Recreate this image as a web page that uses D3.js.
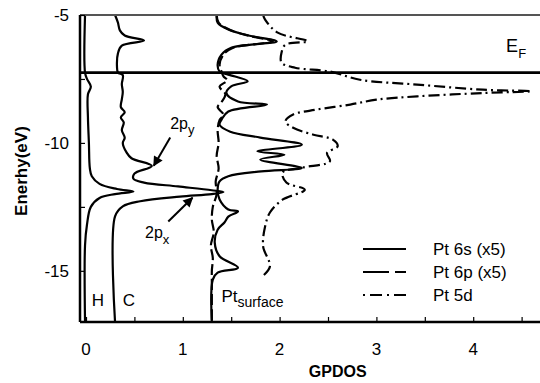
<!DOCTYPE html>
<html>
<head>
<meta charset="utf-8">
<script src="https://cdn.jsdelivr.net/npm/d3@7"></script>
<style>
  body { margin: 0; background: #fff; }
  svg { font-family: "Liberation Sans", Arial, sans-serif; }
</style>
</head>
<body>
<svg id="chart" width="540" height="383"></svg>
<script>
// energy (eV) vs GPDOS, one [E, dos] pair per point
const hCurve = [[-5,-0.01],[-7.25,-0.01],[-7.5,0.01],[-7.8,0.05],[-8.1,0.02],[-9,0.02],[-10,0.03],[-11,0.04],[-11.3,0.06],[-11.6,0.14],[-11.8,0.32],[-11.9,0.49],[-12.0,0.3],[-12.15,0.14],[-12.5,0.05],[-13.2,0.01],[-14,-0.01],[-17,-0.01]];
const cCurve = [[-5,0.3],[-5.3,0.33],[-5.6,0.35],[-5.8,0.4],[-6.0,0.6],[-6.2,0.37],[-6.5,0.33],[-7.0,0.32],[-7.25,0.33],[-7.35,0.38],[-7.7,0.37],[-8.0,0.38],[-8.3,0.37],[-8.6,0.36],[-8.8,0.40],[-9.0,0.36],[-9.2,0.39],[-9.5,0.37],[-9.8,0.40],[-10.0,0.38],[-10.38,0.42],[-10.6,0.47],[-10.9,0.68],[-11.2,0.5],[-11.4,0.49],[-11.55,0.6],[-11.7,0.95],[-11.85,1.3],[-11.92,1.42],[-12.0,1.3],[-12.1,0.97],[-12.28,0.56],[-12.48,0.38],[-12.87,0.3],[-17,0.3]];
const pt6s = [[-5.0,1.35],[-5.3,1.36],[-5.57,1.47],[-5.81,1.69],[-6.03,1.97],[-6.28,1.5],[-6.55,1.4],[-6.94,1.36],[-7.21,1.38],[-7.33,1.47],[-7.59,1.67],[-7.79,1.5],[-8.05,1.45],[-8.38,1.57],[-8.5,1.87],[-8.77,1.47],[-9.09,1.4],[-9.29,1.38],[-9.56,1.49],[-9.79,1.8],[-10.07,2.23],[-10.33,1.77],[-10.46,2.05],[-10.65,1.8],[-10.98,2.23],[-11.11,1.81],[-11.3,1.47],[-11.5,1.38],[-11.82,1.36],[-12.21,1.38],[-12.6,1.47],[-12.68,1.57],[-12.88,1.47],[-13.11,1.43],[-13.39,1.36],[-13.9,1.33],[-14.43,1.38],[-14.88,1.57],[-15.07,1.36],[-15.34,1.31],[-17,1.3]];
const pt6p = [[-5.0,1.35],[-5.3,1.37],[-5.57,1.48],[-5.81,1.68],[-6.03,1.93],[-6.28,1.52],[-6.55,1.42],[-6.94,1.38],[-7.21,1.4],[-7.4,1.42],[-7.55,1.46],[-7.8,1.38],[-8.1,1.44],[-8.4,1.4],[-8.6,1.36],[-8.9,1.42],[-9.1,1.38],[-9.5,1.36],[-10.0,1.37],[-10.5,1.35],[-11.0,1.37],[-11.5,1.34],[-12.0,1.35],[-12.5,1.31],[-13.0,1.3],[-13.5,1.32],[-14.0,1.29],[-14.5,1.31],[-15.0,1.3],[-15.4,1.3],[-17,1.3]];
const pt5d = [[-5.0,1.83],[-5.18,1.85],[-5.69,1.98],[-6.03,2.29],[-6.16,2.06],[-6.47,2.02],[-6.86,2.02],[-7.06,2.16],[-7.21,2.52],[-7.53,2.83],[-7.72,3.42],[-7.92,4.1],[-7.98,4.6],[-8.05,4.1],[-8.18,3.42],[-8.31,3.0],[-8.5,2.73],[-8.7,2.38],[-8.89,2.14],[-9.16,2.06],[-9.41,2.14],[-9.68,2.35],[-9.87,2.55],[-10.13,2.6],[-10.39,2.49],[-10.72,2.52],[-10.96,2.24],[-11.16,2.03],[-11.55,2.07],[-11.83,2.26],[-12.22,2.03],[-12.72,1.9],[-13.27,1.85],[-14.05,1.83],[-14.83,1.9],[-15.26,1.81]];

const fermi = -7.25;
const xTicks = [0, 1, 2, 3, 4];
const yTicks = [-5, -10, -15];
const legendNames = ['Pt 6s (x5)', 'Pt 6p (x5)', 'Pt 5d'];

const svg = d3.select('#chart');
const mLeft = 80, mRight = 540, mTop = 15, mBottom = 322;

const x = d3.scaleLinear().domain([-0.062, 4.69]).range([mLeft, mRight]);
const y = d3.scaleLinear().domain([-5, -17]).range([mTop, mBottom]);

const line = d3.line()
  .x(d => x(d[1]))
  .y(d => y(d[0]))
  .curve(d3.curveCatmullRom.alpha(0.5));

const styles = [
  { data: pt6s, dash: null, legendDash: null },
  { data: pt6p, dash: '11,4', legendDash: '26,6,11' },
  { data: pt5d, dash: '11,4,2,4', legendDash: '2,5,12,5' }
];

// H and C curves
[hCurve, cCurve].forEach(c => {
  svg.append('path').attr('d', line(c))
    .attr('fill', 'none').attr('stroke', '#000').attr('stroke-width', 2.2);
});
styles.forEach(s => {
  svg.append('path').attr('d', line(s.data))
    .attr('fill', 'none').attr('stroke', '#000').attr('stroke-width', 2.2)
    .attr('stroke-dasharray', s.dash);
});

// frame
svg.append('line').attr('x1', mLeft).attr('x2', mRight).attr('y1', mTop).attr('y2', mTop)
  .attr('stroke', '#555').attr('stroke-width', 2);

const xAxis = svg.append('g').attr('transform', `translate(0,${mBottom})`)
  .call(d3.axisBottom(x).tickValues(d3.range(0, 4.6, 0.5)).tickSize(-5).tickFormat(''));
xAxis.select('.domain').attr('stroke-width', 2.5).attr('d', `M${mLeft},0H${mRight}`);
xAxis.selectAll('.tick line').attr('stroke-width', 1.2);
svg.selectAll('.xlab').data(xTicks).enter().append('text')
  .attr('x', d => x(d)).attr('y', mBottom + 33)
  .attr('text-anchor', 'middle').attr('font-size', 17).text(d => d);

const yAxis = svg.append('g').attr('transform', `translate(${mLeft},0)`)
  .call(d3.axisLeft(y).tickValues([-5, -7.5, -10, -12.5, -15]).tickSize(-5).tickFormat(''));
yAxis.select('.domain').attr('stroke-width', 2.5).attr('d', `M0,${mTop}V${mBottom}`);
yAxis.selectAll('.tick line').attr('stroke-width', 1.2);
svg.selectAll('.ylab').data(yTicks).enter().append('text')
  .attr('x', mLeft - 11).attr('y', d => y(d) + 6)
  .attr('text-anchor', 'end').attr('font-size', 17).text(d => d);

// Fermi level
svg.append('line').attr('x1', mLeft).attr('x2', mRight)
  .attr('y1', y(fermi)).attr('y2', y(fermi))
  .attr('stroke', '#000').attr('stroke-width', 2.8);

// axis titles
svg.append('text').attr('x', x(2.6)).attr('y', 377)
  .attr('text-anchor', 'middle').attr('font-size', 16).attr('font-weight', 'bold').text('GPDOS');
svg.append('text').attr('transform', `translate(27,${y(-11.1)}) rotate(-90)`)
  .attr('text-anchor', 'middle').attr('font-size', 17).attr('font-weight', 'bold').text('Enerhy(eV)');

// labels
function subText(v, e, main, sub, size, subSize) {
  const t = svg.append('text').attr('x', x(v)).attr('y', y(e)).attr('font-size', size);
  t.append('tspan').text(main);
  t.append('tspan').attr('font-size', subSize).attr('dy', size * 0.35).text(sub);
}
svg.append('text').attr('x', x(0.06)).attr('y', y(-16.36)).attr('font-size', 17).text('H');
svg.append('text').attr('x', x(0.38)).attr('y', y(-16.36)).attr('font-size', 17).text('C');
subText(1.4, -16.2, 'Pt', 'surface', 17, 14);
subText(4.34, -6.45, 'E', 'F', 18, 13);
subText(0.87, -9.45, '2p', 'y', 16, 13);
subText(0.61, -13.72, '2p', 'x', 16, 13);

// arrows
svg.append('defs').append('marker').attr('id', 'arr')
  .attr('viewBox', '0 0 10 10').attr('refX', 9).attr('refY', 5)
  .attr('markerWidth', 12).attr('markerHeight', 10).attr('markerUnits', 'userSpaceOnUse')
  .attr('orient', 'auto')
  .append('path').attr('d', 'M0,0L10,5L0,10Z').attr('fill', '#000');
const arrows = [[[0.87, -9.79], [0.70, -10.89]], [[0.85, -13.07], [1.10, -12.14]]];
arrows.forEach(a => {
  svg.append('line').attr('x1', x(a[0][0])).attr('y1', y(a[0][1]))
    .attr('x2', x(a[1][0])).attr('y2', y(a[1][1]))
    .attr('stroke', '#000').attr('stroke-width', 2).attr('marker-end', 'url(#arr)');
});

// legend
const lg = svg.append('g');
legendNames.forEach((name, i) => {
  const ly = 249 + i * 23;
  lg.append('line').attr('x1', 363).attr('x2', 406).attr('y1', ly).attr('y2', ly)
    .attr('stroke', '#000').attr('stroke-width', 2.2).attr('stroke-dasharray', styles[i].legendDash);
  lg.append('text').attr('x', 433).attr('y', ly + 6).attr('font-size', 17).text(name);
});
</script>
</body>
</html>
